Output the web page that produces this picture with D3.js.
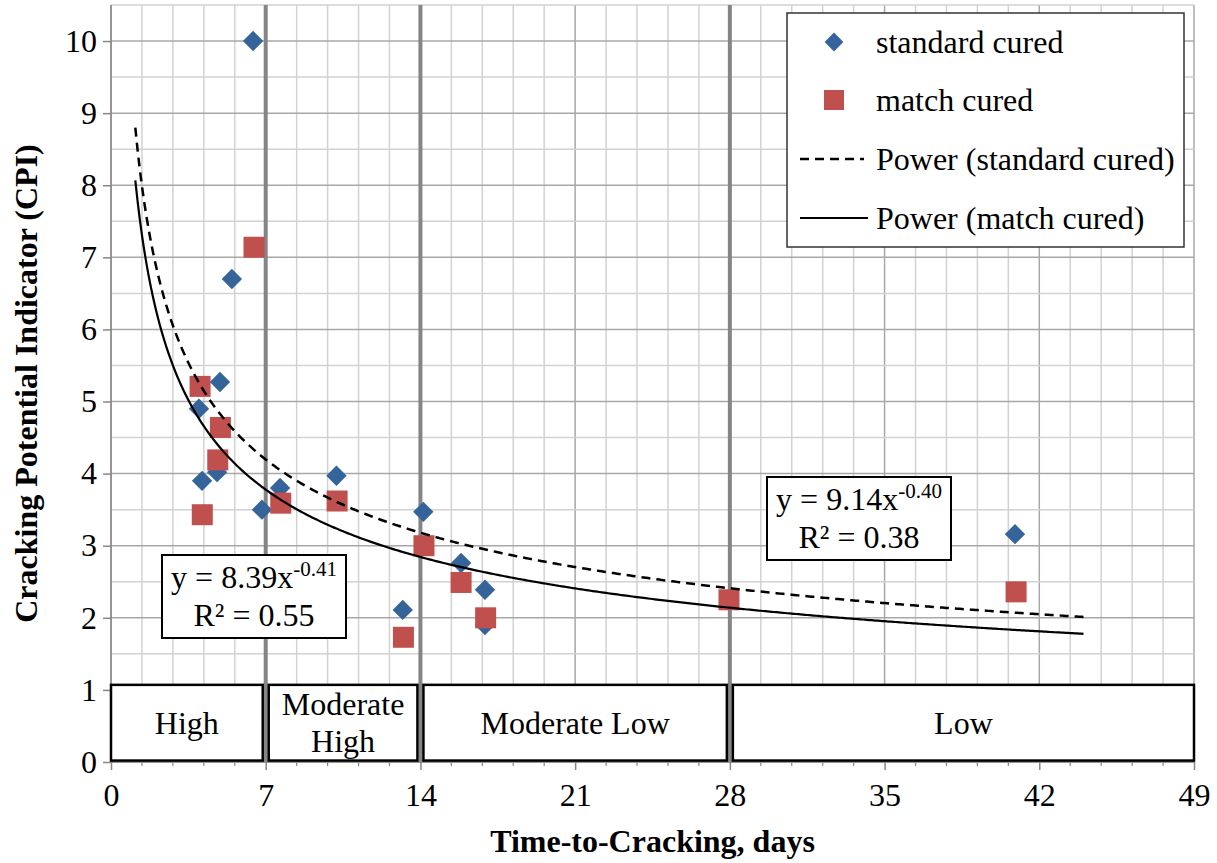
<!DOCTYPE html>
<html>
<head>
<meta charset="utf-8">
<script src="https://cdn.jsdelivr.net/npm/d3@7"></script>
<style>
  html, body { margin: 0; padding: 0; background: #fff; }
  svg { display: block; font-family: "Liberation Serif", "Times New Roman", serif; }
</style>
</head>
<body>
<svg id="chart" width="1217" height="863"></svg>
<script>
// Time-to-cracking (days) and CPI for each curing condition
const standardDays = [6.43, 5.47, 4.93, 3.98, 4.12, 4.80, 6.83, 7.65, 10.20, 13.20, 14.13, 15.84, 16.92, 16.92, 40.90];
const standardCPI  = [10.00, 6.70, 5.27, 4.90, 3.90, 4.02, 3.50, 3.80, 3.97, 2.11, 3.47, 2.76, 2.39, 1.90, 3.16];
const matchDays    = [6.47, 4.03, 4.95, 4.83, 4.13, 7.68, 10.23, 14.16, 15.84, 16.95, 13.23, 27.96, 40.95];
const matchCPI     = [7.14, 5.21, 4.64, 4.19, 3.43, 3.59, 3.62, 3.00, 2.49, 2.00, 1.73, 2.25, 2.36];

// Power-law fits y = a * x^b
const standardFit = { a: 9.14, b: -0.40, r2: "0.38" };
const matchFit    = { a: 8.39, b: -0.41, r2: "0.55" };
const fitRange = [1.1, 44];

// Axis ticks
const xTicks = [0, 7, 14, 21, 28, 35, 42, 49];
const yTicks = [0, 1, 2, 3, 4, 5, 6, 7, 8, 9, 10];

// Cracking-risk classes along the time axis
const classNames  = [["High"], ["Moderate", "High"], ["Moderate Low"], ["Low"]];
const classBounds = [[0, 7], [7, 14], [14, 28], [28, 49]];
const classDividers = [7, 14, 28];

const svg = d3.select("#chart");
const x = d3.scaleLinear().domain([0, 49]).range([111, 1194]);
const y = d3.scaleLinear().domain([0, 10.5]).range([762, 5]);

const fontSize = 32;
const serif = "Liberation Serif, Times New Roman, serif";
const blue = "#35649b";
const red = "#c0504d";

// Gridlines: minor then major
const grid = svg.append("g");
const xMinor = d3.range(0, 49.001, 1.4);
const yMinor = d3.range(0, 10.501, 0.5);
const isMajorX = d => Math.abs(d / 7 - Math.round(d / 7)) < 1e-6;
grid.selectAll(".vx").data(xMinor).join("line")
  .attr("x1", d => x(d)).attr("x2", d => x(d))
  .attr("y1", y(0)).attr("y2", y(10.5))
  .attr("stroke", d => isMajorX(d) ? "#a8a8a8" : "#d2d2d2")
  .attr("stroke-width", 1.5);
grid.selectAll(".hy").data(yMinor).join("line")
  .attr("x1", x(0)).attr("x2", x(49))
  .attr("y1", d => y(d)).attr("y2", d => y(d))
  .attr("stroke", d => Number.isInteger(d) ? "#a8a8a8" : "#d2d2d2")
  .attr("stroke-width", 1.5);

// Class divider lines
svg.append("g").selectAll("line").data(classDividers).join("line")
  .attr("x1", d => x(d)).attr("x2", d => x(d))
  .attr("y1", y(0)).attr("y2", y(10.5))
  .attr("stroke", "#858585").attr("stroke-width", 4);

// Axes
const xAxis = svg.append("g").attr("transform", `translate(0,${y(0)})`)
  .call(d3.axisBottom(x).tickValues(xTicks).tickSize(8).tickPadding(13).tickFormat(d3.format("d")));
xAxis.append("g").selectAll("line").data(xMinor.filter(d => !isMajorX(d))).join("line")
  .attr("x1", d => x(d)).attr("x2", d => x(d)).attr("y1", 0).attr("y2", 4)
  .attr("stroke", "#878787").attr("stroke-width", 1.2);
const yAxis = svg.append("g").attr("transform", `translate(${x(0)},0)`)
  .call(d3.axisLeft(y).tickValues(yTicks).tickSize(8).tickPadding(6).tickFormat(d3.format("d")));
[xAxis, yAxis].forEach(g => {
  g.attr("font-family", serif);
  g.select(".domain").attr("stroke", "#878787").attr("stroke-width", 1.5);
  g.selectAll(".tick line").attr("stroke", "#878787").attr("stroke-width", 1.5);
  g.selectAll(".tick text").attr("font-size", fontSize).attr("fill", "#000")
    .attr("font-family", serif);
});
yAxis.select(".domain").attr("d", `M0,${y(10.5)}V${y(0)}`);
xAxis.select(".domain").attr("d", `M${x(0)},0H${x(49)}`);

// Class boxes
const boxes = svg.append("g");
classBounds.forEach((b, i) => {
  const x0 = x(b[0]) + (b[0] === 0 ? 0 : 3);
  const x1 = x(b[1]) - (b[1] === 49 ? 0 : 3);
  const top = y(1.07), bot = y(0.02);
  boxes.append("rect").attr("x", x0).attr("y", top)
    .attr("width", x1 - x0).attr("height", bot - top)
    .attr("fill", "#fff").attr("stroke", "#000").attr("stroke-width", 2.5);
  const lines = classNames[i];
  const cx = (x0 + x1) / 2, cy = (top + bot) / 2;
  const lh = 37;
  lines.forEach((t, j) => {
    boxes.append("text").attr("x", cx)
      .attr("y", cy + (j - (lines.length - 1) / 2) * lh)
      .attr("dy", "0.35em").attr("text-anchor", "middle")
      .attr("font-size", fontSize).text(t);
  });
});

// Markers: diamonds below squares
const diamond = d3.symbol().type(d3.symbolDiamond2).size(265);
svg.append("g").selectAll("path").data(d3.zip(standardDays, standardCPI)).join("path")
  .attr("d", diamond)
  .attr("transform", d => `translate(${x(d[0])},${y(d[1])})`)
  .attr("fill", blue);
svg.append("g").selectAll("rect").data(d3.zip(matchDays, matchCPI)).join("rect")
  .attr("x", d => x(d[0]) - 10.5).attr("y", d => y(d[1]) - 10.5)
  .attr("width", 21).attr("height", 21)
  .attr("fill", red);

// Trend curves
const fitLine = f => d3.line()
  .x(d => x(d)).y(d => y(f.a * Math.pow(d, f.b)))
  (d3.range(fitRange[0], fitRange[1] + 0.001, 0.1));
svg.append("path").attr("d", fitLine(standardFit))
  .attr("fill", "none").attr("stroke", "#000").attr("stroke-width", 2.5)
  .attr("stroke-dasharray", "9,6");
svg.append("path").attr("d", fitLine(matchFit))
  .attr("fill", "none").attr("stroke", "#000").attr("stroke-width", 2.2);

// Equation labels
function equationBox(f, left, top) {
  const w = 184, h = 83;
  const g = svg.append("g").attr("transform", `translate(${left},${top})`);
  g.append("rect").attr("width", w).attr("height", h)
    .attr("fill", "#fff").attr("stroke", "#000").attr("stroke-width", 2);
  const t1 = g.append("text").attr("x", w / 2).attr("y", 33)
    .attr("text-anchor", "middle").attr("font-size", fontSize);
  t1.append("tspan").text(`y = ${f.a.toFixed(2)}x`);
  t1.append("tspan").attr("dy", -12).attr("font-size", 21).text(f.b.toFixed(2));
  g.append("text").attr("x", w / 2).attr("y", 71)
    .attr("text-anchor", "middle").attr("font-size", fontSize)
    .text(`R\u00B2 = ${f.r2}`);
}
equationBox(matchFit, 162, 555);
equationBox(standardFit, 767, 477);

// Legend
const legend = svg.append("g").attr("transform", "translate(787,13)");
legend.append("rect").attr("width", 397).attr("height", 234)
  .attr("fill", "#fff").attr("stroke", "#333").attr("stroke-width", 1.5);
const rowY = [29, 87, 146, 205];
const legendLabels = ["standard cured", "match cured", "Power (standard cured)", "Power (match cured)"];
legend.append("path").attr("d", diamond)
  .attr("transform", `translate(47,${rowY[0]}) scale(0.92)`).attr("fill", blue);
legend.append("rect").attr("x", 37).attr("y", rowY[1] - 10).attr("width", 20).attr("height", 20).attr("fill", red);
legend.append("line").attr("x1", 13).attr("x2", 77).attr("y1", rowY[2]).attr("y2", rowY[2])
  .attr("stroke", "#000").attr("stroke-width", 2.5).attr("stroke-dasharray", "9,6");
legend.append("line").attr("x1", 13).attr("x2", 81).attr("y1", rowY[3]).attr("y2", rowY[3])
  .attr("stroke", "#000").attr("stroke-width", 2.2);
legend.selectAll(".lt").data(legendLabels).join("text")
  .attr("x", 89).attr("y", (d, i) => rowY[i]).attr("dy", "0.33em")
  .attr("font-size", fontSize).text(d => d);

// Axis titles
svg.append("text").attr("x", (x(0) + x(49)) / 2).attr("y", 852)
  .attr("text-anchor", "middle").attr("font-size", fontSize).attr("font-weight", "bold")
  .text("Time-to-Cracking, days");
svg.append("text").attr("transform", `translate(37,${(y(0) + y(10.5)) / 2}) rotate(-90)`)
  .attr("text-anchor", "middle").attr("font-size", fontSize).attr("font-weight", "bold")
  .text("Cracking Potential Indicator (CPI)");
</script>
</body>
</html>
